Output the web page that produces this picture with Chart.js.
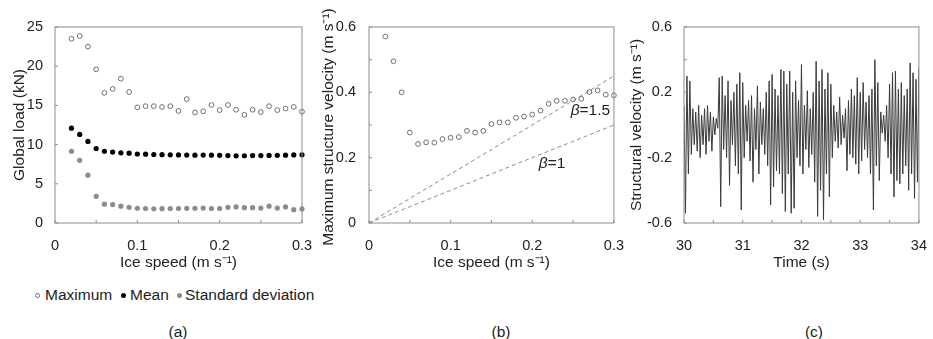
<!DOCTYPE html>
<html>
<head>
<meta charset="utf-8">
<script src="https://cdn.jsdelivr.net/npm/chart.js@4.4.1/dist/chart.umd.min.js"></script>
<style>
  body { margin: 0; background: #fff; }
  #wrap { position: relative; width: 933px; height: 339px; overflow: hidden; font-family: "Liberation Sans", Arial, sans-serif; color: #222; }
  canvas { position: absolute; top: 0; }
  .txt { position: absolute; font-size: 15.5px; line-height: 18px; white-space: nowrap; }
  .mk { position: absolute; width: 5px; height: 5px; border-radius: 50%; box-sizing: border-box; }
</style>
</head>
<body>
<div id="wrap">
  <canvas id="chartA" width="320" height="280" style="left:0px"></canvas>
  <canvas id="chartB" width="320" height="280" style="left:310px"></canvas>
  <canvas id="chartC" width="307" height="280" style="left:626px"></canvas>

  <div class="mk" style="left:34.5px;top:292.5px;border:1px solid #6e6e6e;"></div>
  <div class="txt" style="left:45px;top:286px;">Maximum</div>
  <div class="mk" style="left:120.5px;top:292.5px;background:#000;"></div>
  <div class="txt" style="left:130px;top:286px;">Mean</div>
  <div class="mk" style="left:176.5px;top:292.5px;background:#8c8c8c;"></div>
  <div class="txt" style="left:185px;top:286px;">Standard deviation</div>

  <div class="txt" style="left:178px;top:323px;transform:translateX(-50%);">(a)</div>
  <div class="txt" style="left:501px;top:323px;transform:translateX(-50%);">(b)</div>
  <div class="txt" style="left:814px;top:323px;transform:translateX(-50%);">(c)</div>
</div>

<script>
// ice speed (m/s), shared by panels (a) and (b)
const speeds = [0.02, 0.03, 0.04, 0.05, 0.06, 0.07, 0.08, 0.09, 0.10, 0.11,
  0.12, 0.13, 0.14, 0.15, 0.16, 0.17, 0.18, 0.19, 0.20, 0.21,
  0.22, 0.23, 0.24, 0.25, 0.26, 0.27, 0.28, 0.29, 0.30];

// (a) global load, kN
const loadMax = [23.5, 23.85, 22.5, 19.6, 16.6, 17.1, 18.4, 16.7, 14.75, 14.9,
  14.9, 14.8, 14.9, 14.3, 15.8, 14.1, 14.25, 15.05, 14.4, 15.05,
  14.45, 13.8, 14.45, 14.15, 14.9, 14.4, 14.6, 14.8, 14.2];
const loadMean = [12.1, 11.3, 10.4, 9.5, 9.15, 9.05, 8.95, 8.9, 8.8, 8.78,
  8.74, 8.72, 8.7, 8.68, 8.66, 8.65, 8.66, 8.65, 8.63, 8.6,
  8.57, 8.58, 8.6, 8.6, 8.62, 8.63, 8.65, 8.68, 8.7];
const loadStd = [9.15, 8.0, 6.1, 3.4, 2.4, 2.35, 2.15, 2.0, 1.88, 1.85,
  1.82, 1.83, 1.85, 1.85, 1.87, 1.88, 1.9, 1.85, 1.85, 2.0,
  2.05, 1.95, 1.95, 1.9, 2.15, 1.9, 2.05, 1.7, 1.8];

// (b) maximum structure velocity, m/s
const velMax = [0.571, 0.495, 0.40, 0.277, 0.242, 0.247, 0.246, 0.257, 0.261, 0.263,
  0.282, 0.277, 0.282, 0.303, 0.308, 0.308, 0.322, 0.326, 0.332, 0.344,
  0.365, 0.374, 0.374, 0.378, 0.38, 0.401, 0.406, 0.393, 0.391];
const beta15 = [[0, 0], [0.3, 0.45]];
const beta1 = [[0, 0], [0.3, 0.3]];

// (c) structural velocity time history, sampled every 0.025 s from 30 s
const tStart = 30;
const tStep = 0.025;
const velTime = [
  0.12, -0.54, 0.30, -0.30, 0.27, -0.18, 0.10, -0.12, 0.08, -0.16,
  0.12, -0.20, 0.06, -0.12, 0.10, -0.18, 0.12, -0.10, 0.08, -0.16,
  0.05, -0.06, 0.04, -0.02, 0.29, -0.50, 0.30, -0.15, 0.18, -0.20,
  0.27, -0.37, 0.15, -0.12, 0.20, -0.25, 0.25, -0.30, 0.32, -0.52,
  0.26, -0.20, 0.12, -0.10, 0.15, -0.22, 0.18, -0.35, 0.10, -0.15,
  0.24, -0.30, 0.14, -0.12, 0.10, -0.18, 0.20, -0.25, 0.27, -0.49,
  0.31, -0.38, 0.22, -0.28, 0.18, -0.30, 0.34, -0.42, 0.33, -0.53,
  0.25, -0.30, 0.33, -0.54, 0.20, -0.51, 0.27, -0.20, 0.15, -0.25,
  0.37, -0.30, 0.12, -0.15, 0.21, -0.26, 0.10, -0.18, 0.20, -0.35,
  0.39, -0.56, 0.27, -0.40, 0.34, -0.58, 0.22, -0.30, 0.32, -0.44,
  0.25, -0.20, 0.12, -0.10, 0.08, -0.14, 0.17, -0.12, 0.06, -0.08,
  0.10, -0.28, 0.15, -0.18, 0.22, -0.20, 0.18, -0.24, 0.29, -0.30,
  0.20, -0.22, 0.26, -0.15, 0.14, -0.20, 0.18, -0.30, 0.22, -0.52,
  0.40, -0.25, 0.26, -0.34, 0.08, -0.05, 0.06, -0.10, 0.12, -0.20,
  0.25, -0.30, 0.32, -0.44, 0.33, -0.34, 0.22, -0.36, 0.26, -0.30,
  0.18, -0.25, 0.22, -0.40, 0.38, -0.30, 0.32, -0.45, 0.28, -0.35,
  0.35
];

const FONT = '"Liberation Sans", Arial, sans-serif';
const TEXT = '#222';
Chart.defaults.font.family = FONT;
Chart.defaults.color = TEXT;

// box round the plot area with small inward tick marks
const framePlugin = {
  id: 'frame',
  afterDatasetsDraw(chart, args, opts) {
    const { ctx, chartArea: a, scales: { x, y } } = chart;
    const marks = (scale, minor) => {
      const vals = scale.ticks.map(t => t.value);
      if (!minor) return vals;
      const out = vals.slice();
      for (let i = 0; i < vals.length - 1; i++) out.push((vals[i] + vals[i + 1]) / 2);
      return out;
    };
    ctx.save();
    ctx.strokeStyle = '#8c8c8c';
    ctx.lineWidth = 1;
    ctx.strokeRect(a.left, a.top, a.right - a.left, a.bottom - a.top);
    ctx.beginPath();
    marks(x, true).forEach(v => {
      const px = x.getPixelForValue(v);
      ctx.moveTo(px, a.bottom);
      ctx.lineTo(px, a.bottom - 3);
    });
    marks(y, opts.minorY).forEach(v => {
      const py = y.getPixelForValue(v);
      ctx.moveTo(a.left, py);
      ctx.lineTo(a.left + 3, py);
    });
    ctx.stroke();
    ctx.restore();
  }
};

// rotated y title drawn by hand (long text would be squeezed by the scale title)
const sideTitlePlugin = {
  id: 'sideTitle',
  afterDraw(chart, args, opts) {
    if (!opts.text) return;
    const { ctx, chartArea: a } = chart;
    ctx.save();
    ctx.translate(opts.x, (a.top + a.bottom) / 2 + 2);
    ctx.rotate(-Math.PI / 2);
    ctx.font = '15.5px ' + FONT;
    ctx.fillStyle = TEXT;
    ctx.textAlign = 'center';
    ctx.textBaseline = 'middle';
    ctx.fillText(opts.text, 0, 0);
    ctx.restore();
  }
};

// β labels next to the dashed lines
const betaPlugin = {
  id: 'betaLabels',
  afterDatasetsDraw(chart, args, opts) {
    if (!opts.items) return;
    const { ctx, scales: { x, y } } = chart;
    ctx.save();
    ctx.fillStyle = TEXT;
    ctx.textBaseline = 'middle';
    opts.items.forEach(it => {
      let px = x.getPixelForValue(it.x);
      const py = y.getPixelForValue(it.y);
      ctx.font = 'italic 15.5px ' + FONT;
      ctx.fillText('β', px, py);
      px += ctx.measureText('β').width;
      ctx.font = '15.5px ' + FONT;
      ctx.fillText(it.text, px, py);
    });
    ctx.restore();
  }
};

Chart.register(framePlugin, sideTitlePlugin, betaPlugin);

function xy(xs, ys) {
  return xs.map((v, i) => ({ x: v, y: ys[i] }));
}

function axis(opts) {
  return {
    type: 'linear',
    min: opts.min,
    max: opts.max,
    grid: { display: false },
    border: { display: false },
    ticks: {
      stepSize: opts.step,
      autoSkip: false,
      maxRotation: 0,
      padding: opts.pad,
      font: { size: 14.5 },
      color: TEXT,
      callback: opts.fmt
    },
    title: opts.title ? {
      display: true,
      text: opts.title,
      font: { size: 15.5 },
      color: TEXT,
      padding: opts.titlePad
    } : { display: false },
    afterFit: opts.fit
  };
}

const fmt1 = v => (Math.abs(v) < 1e-9 ? '0' : v.toFixed(1));

const baseOptions = (rightPad, plugins, scales) => ({
  responsive: false,
  animation: false,
  events: [],
  layout: { padding: { top: 27, right: rightPad, bottom: 0, left: 0 }, autoPadding: false },
  plugins: Object.assign({ legend: { display: false }, tooltip: { enabled: false } }, plugins),
  scales: scales
});

// (a)
new Chart(document.getElementById('chartA'), {
  type: 'scatter',
  data: {
    datasets: [
      { label: 'Maximum', data: xy(speeds, loadMax), pointRadius: 2.4, borderWidth: 1,
        borderColor: '#6e6e6e', backgroundColor: 'rgba(255,255,255,0)', clip: false },
      { label: 'Mean', data: xy(speeds, loadMean), pointRadius: 2.6, borderWidth: 0,
        backgroundColor: '#000', clip: false },
      { label: 'Standard deviation', data: xy(speeds, loadStd), pointRadius: 2.6, borderWidth: 0,
        backgroundColor: '#8c8c8c', clip: false }
    ]
  },
  options: baseOptions(18, { frame: { minorY: false } }, {
    x: axis({ min: 0, max: 0.3, step: 0.1, pad: 6, fmt: fmt1,
      title: 'Ice speed (m s⁻¹)', titlePad: { top: 0, bottom: 7.7 },
      fit: s => { s.height = 57; } }),
    y: axis({ min: 0, max: 25, step: 5, pad: 4, fmt: v => String(v),
      title: 'Global load (kN)', titlePad: { top: 10.7, bottom: 0 },
      fit: s => { s.width = 55; } })
  })
});

// (b)
new Chart(document.getElementById('chartB'), {
  type: 'scatter',
  data: {
    datasets: [
      { label: 'Maximum', data: xy(speeds, velMax), pointRadius: 2.4, borderWidth: 1,
        borderColor: '#6e6e6e', backgroundColor: 'rgba(255,255,255,0)', clip: false },
      { label: 'β=1.5', type: 'line', data: beta15.map(p => ({ x: p[0], y: p[1] })),
        borderColor: '#8c8c8c', borderWidth: 1, borderDash: [4, 3], pointRadius: 0, fill: false },
      { label: 'β=1', type: 'line', data: beta1.map(p => ({ x: p[0], y: p[1] })),
        borderColor: '#8c8c8c', borderWidth: 1, borderDash: [4, 3], pointRadius: 0, fill: false }
    ]
  },
  options: baseOptions(14, {
    frame: { minorY: true },
    sideTitle: { text: 'Maximum structure velocity (m s⁻¹)', x: 19 },
    betaLabels: { items: [
      { x: 0.247, y: 0.345, text: '=1.5' },
      { x: 0.208, y: 0.181, text: '=1' }
    ] }
  }, {
    x: axis({ min: 0, max: 0.3, step: 0.1, pad: 6, fmt: fmt1,
      title: 'Ice speed (m s⁻¹)', titlePad: { top: 0, bottom: 7.7 },
      fit: s => { s.height = 57; } }),
    y: axis({ min: 0, max: 0.6, step: 0.2, pad: 5, fmt: fmt1,
      fit: s => { s.width = 59; } })
  })
});

// (c)
new Chart(document.getElementById('chartC'), {
  type: 'line',
  data: {
    datasets: [
      { label: 'Structural velocity', data: velTime.map((v, i) => ({ x: tStart + i * tStep, y: v })),
        borderColor: '#3a3a3a', borderWidth: 1, pointRadius: 0, tension: 0, fill: false }
    ]
  },
  options: baseOptions(2, { frame: { minorY: true } }, {
    x: axis({ min: 30, max: 34, step: 1, pad: 6, fmt: v => String(v),
      title: 'Time (s)', titlePad: { top: 0, bottom: 7.7 },
      fit: s => { s.height = 57; } }),
    y: axis({ min: -0.6, max: 0.6, step: 0.4, pad: 4, fmt: fmt1,
      title: 'Structural velocity (m s⁻¹)', titlePad: { top: 1.7, bottom: 0 },
      fit: s => { s.width = 58; } })
  })
});
</script>
</body>
</html>
